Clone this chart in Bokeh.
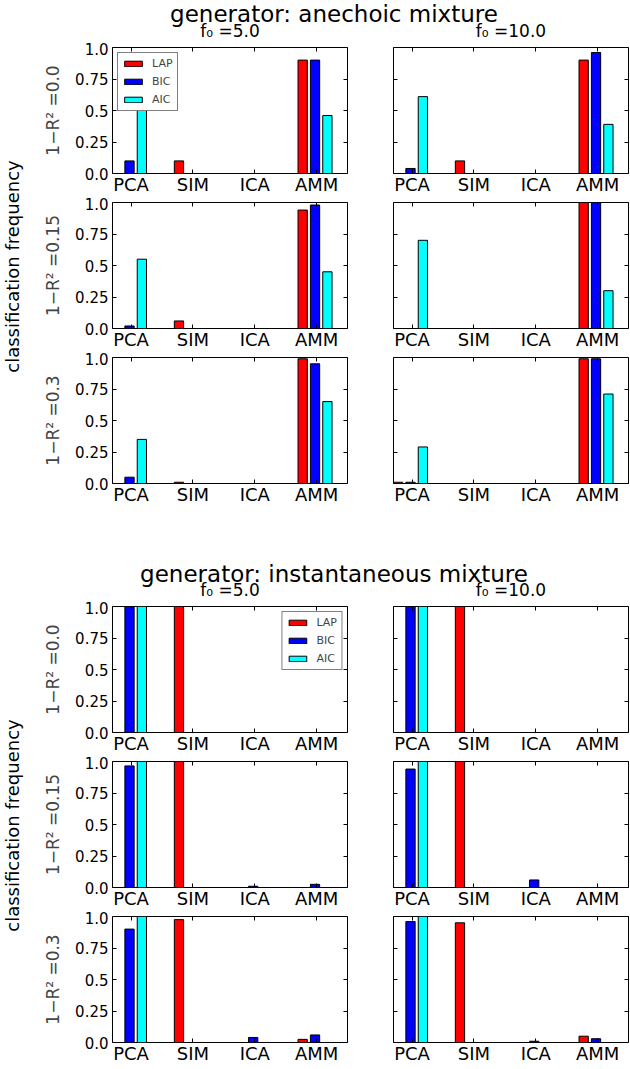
import math
from bokeh.plotting import figure
from bokeh.layouts import column, row
from bokeh.models import (ColumnDataSource, Range1d, FixedTicker, LinearAxis,
                          Legend, LegendItem)
from bokeh.core.properties import value
from bokeh.embed import file_html
from bokeh.resources import INLINE

FONT = "DejaVu Sans"

categories = ["PCA", "SIM", "ICA", "AMM"]
methods = ["LAP", "BIC", "AIC"]
method_colors = ["#ff0000", "#0000ff", "#00ffff"]
generators = ["anechoic mixture", "instantaneous mixture"]
f0_labels = ["5.0", "10.0"]
r2_labels = ["0.0", "0.15", "0.3"]
y_tick_values = [0.0, 0.25, 0.5, 0.75, 1.0]
y_tick_labels = ["0.0", "0.25", "0.5", "0.75", "1.0"]
common_ylabel = "classification frequency"

# ---- generator: anechoic mixture ----
ane_r00_f5_lap = [0.00, 0.10, 0.00, 0.90]
ane_r00_f5_bic = [0.10, 0.00, 0.00, 0.90]
ane_r00_f5_aic = [0.54, 0.00, 0.00, 0.46]
ane_r00_f10_lap = [0.00, 0.10, 0.00, 0.90]
ane_r00_f10_bic = [0.04, 0.00, 0.00, 0.96]
ane_r00_f10_aic = [0.61, 0.00, 0.00, 0.39]

ane_r15_f5_lap = [0.00, 0.06, 0.00, 0.94]
ane_r15_f5_bic = [0.02, 0.00, 0.00, 0.98]
ane_r15_f5_aic = [0.55, 0.00, 0.00, 0.45]
ane_r15_f10_lap = [0.00, 0.00, 0.00, 1.00]
ane_r15_f10_bic = [0.00, 0.00, 0.00, 1.00]
ane_r15_f10_aic = [0.70, 0.00, 0.00, 0.30]

ane_r30_f5_lap = [0.00, 0.01, 0.00, 0.99]
ane_r30_f5_bic = [0.05, 0.00, 0.00, 0.95]
ane_r30_f5_aic = [0.35, 0.00, 0.00, 0.65]
ane_r30_f10_lap = [0.01, 0.00, 0.00, 0.99]
ane_r30_f10_bic = [0.01, 0.00, 0.00, 0.99]
ane_r30_f10_aic = [0.29, 0.00, 0.00, 0.71]

# ---- generator: instantaneous mixture ----
ins_r00_f5_lap = [0.00, 1.00, 0.00, 0.00]
ins_r00_f5_bic = [1.00, 0.00, 0.00, 0.00]
ins_r00_f5_aic = [1.00, 0.00, 0.00, 0.00]
ins_r00_f10_lap = [0.00, 1.00, 0.00, 0.00]
ins_r00_f10_bic = [1.00, 0.00, 0.00, 0.00]
ins_r00_f10_aic = [1.00, 0.00, 0.00, 0.00]

ins_r15_f5_lap = [0.00, 1.00, 0.00, 0.00]
ins_r15_f5_bic = [0.965, 0.00, 0.01, 0.025]
ins_r15_f5_aic = [1.00, 0.00, 0.00, 0.00]
ins_r15_f10_lap = [0.00, 1.00, 0.00, 0.00]
ins_r15_f10_bic = [0.94, 0.00, 0.06, 0.00]
ins_r15_f10_aic = [1.00, 0.00, 0.00, 0.00]

ins_r30_f5_lap = [0.00, 0.975, 0.00, 0.025]
ins_r30_f5_bic = [0.90, 0.00, 0.04, 0.06]
ins_r30_f5_aic = [1.00, 0.00, 0.00, 0.00]
ins_r30_f10_lap = [0.00, 0.95, 0.00, 0.05]
ins_r30_f10_bic = [0.96, 0.00, 0.01, 0.03]
ins_r30_f10_aic = [1.00, 0.00, 0.00, 0.00]

panel_data = {
    0: [[[ane_r00_f5_lap, ane_r00_f5_bic, ane_r00_f5_aic],
         [ane_r00_f10_lap, ane_r00_f10_bic, ane_r00_f10_aic]],
        [[ane_r15_f5_lap, ane_r15_f5_bic, ane_r15_f5_aic],
         [ane_r15_f10_lap, ane_r15_f10_bic, ane_r15_f10_aic]],
        [[ane_r30_f5_lap, ane_r30_f5_bic, ane_r30_f5_aic],
         [ane_r30_f10_lap, ane_r30_f10_bic, ane_r30_f10_aic]]],
    1: [[[ins_r00_f5_lap, ins_r00_f5_bic, ins_r00_f5_aic],
         [ins_r00_f10_lap, ins_r00_f10_bic, ins_r00_f10_aic]],
        [[ins_r15_f5_lap, ins_r15_f5_bic, ins_r15_f5_aic],
         [ins_r15_f10_lap, ins_r15_f10_bic, ins_r15_f10_aic]],
        [[ins_r30_f5_lap, ins_r30_f5_bic, ins_r30_f5_aic],
         [ins_r30_f10_lap, ins_r30_f10_bic, ins_r30_f10_aic]]],
}

# ---- layout / style constants ----
BAR_OFFSETS = [0.0, 0.2, 0.4]
BAR_WIDTH = 0.15
TICK_OFFSET = 0.3
X_END = 3.8
FRAME_W = 235
TOP_B = 5
BOT_B = 22
ROW_H = 155
STRIP_W = 24
LEFT_BORDER = 88
MID_GAP = 23
RIGHT_BORDER = 1
LEFT_W = LEFT_BORDER + FRAME_W + MID_GAP
RIGHT_W = MID_GAP + FRAME_W + RIGHT_BORDER
TOTAL_W = STRIP_W + LEFT_W + RIGHT_W
FRAME_CENTERS = [STRIP_W + LEFT_BORDER + FRAME_W / 2,
                 STRIP_W + LEFT_W + MID_GAP + FRAME_W / 2]
TITLE_CENTER = 333.5
BASELINE_CORR = 0.3  # em; empirical correction of alphabetic baseline placement


def style_axis(ax, show_labels, size="15px"):
    ax.axis_line_color = None
    ax.major_tick_in = 4
    ax.major_tick_out = 0
    ax.major_tick_line_color = "black"
    ax.major_tick_line_width = 1
    ax.minor_tick_line_color = None
    if show_labels:
        ax.major_label_text_font = FONT
        ax.major_label_text_font_size = size
        ax.major_label_text_color = "black"
    else:
        ax.major_label_text_color = None
        ax.major_label_text_font_size = "0px"
        ax.major_label_standoff = 0
        ax.axis_label_standoff = 0


def make_panel(g, r, c):
    vals = panel_data[g][r][c]
    left = c == 0
    p = figure(width=LEFT_W if left else RIGHT_W, height=ROW_H, title=None,
               x_range=Range1d(0, X_END), y_range=Range1d(0, 1),
               output_backend="svg", toolbar_location=None,
               min_border_left=LEFT_BORDER if left else MID_GAP,
               min_border_right=MID_GAP if left else RIGHT_BORDER,
               min_border_top=TOP_B, min_border_bottom=BOT_B)
    p.xgrid.visible = False
    p.ygrid.visible = False
    p.outline_line_color = "black"
    p.outline_line_width = 1
    p.outline_line_alpha = 1.0
    p.background_fill_color = "white"
    p.border_fill_color = "white"

    renderers = []
    for k, m in enumerate(methods):
        xs = [i + BAR_OFFSETS[k] + BAR_WIDTH / 2 for i in range(len(categories))]
        src = ColumnDataSource(dict(x=xs, top=vals[k], cat=categories))
        rr = p.vbar(x="x", top="top", bottom=0, width=BAR_WIDTH, source=src,
                    fill_color=method_colors[k], line_color="black", line_width=1)
        renderers.append(rr)

    x_ticks = [i + TICK_OFFSET for i in range(len(categories))]

    xa = p.xaxis[0]
    xa.ticker = FixedTicker(ticks=x_ticks)
    xa.major_label_overrides = {t: lab for t, lab in zip(x_ticks, categories)}
    style_axis(xa, True, "18px")
    xa.major_label_standoff = 0

    ya = p.yaxis[0]
    ya.ticker = FixedTicker(ticks=y_tick_values)
    ya.major_label_overrides = {t: lab for t, lab in zip(y_tick_values, y_tick_labels)}
    style_axis(ya, left, "15px")
    if left:
        ya.major_label_standoff = 4
        ya.axis_label = "1\u2212R\u00b2 =" + r2_labels[r]
        ya.axis_label_text_font = FONT
        ya.axis_label_text_font_size = "17px"
        ya.axis_label_text_font_style = "normal"
        ya.axis_label_standoff = 9

    top_ax = LinearAxis(ticker=FixedTicker(ticks=x_ticks))
    style_axis(top_ax, False)
    p.add_layout(top_ax, "above")
    right_ax = LinearAxis(ticker=FixedTicker(ticks=y_tick_values))
    style_axis(right_ax, False)
    p.add_layout(right_ax, "right")

    if left and r == 0:
        legend = Legend(items=[LegendItem(label=m, renderers=[rr])
                               for m, rr in zip(methods, renderers)],
                        location="top_left" if g == 0 else "top_right",
                        margin=5, padding=4, spacing=5,
                        glyph_width=22, glyph_height=7, label_height=11,
                        label_standoff=8, label_text_font=FONT,
                        label_text_font_size="11px",
                        border_line_color="black", border_line_width=1,
                        background_fill_color="white", background_fill_alpha=1.0)
        p.add_layout(legend, "center")
    return p


def make_header(g, height, title_base, f0_base):
    # baselines are given in pixels from the top of this header strip
    t = figure(width=TOTAL_W, height=height, title=None,
               x_range=Range1d(0, TOTAL_W), y_range=Range1d(0, height),
               x_axis_type=None, y_axis_type=None,
               toolbar_location=None, output_backend="svg", min_border=0)
    t.outline_line_color = None
    t.border_fill_color = "white"
    main = ColumnDataSource(dict(x=[TITLE_CENTER],
                                 y=[height - title_base + BASELINE_CORR * 23],
                                 text=["generator: " + generators[g]]))
    t.text(x="x", y="y", text="text", source=main, text_align="center",
           text_baseline="alphabetic", text_font=value(FONT),
           text_font_size="23px", text_color="black")
    sub = ColumnDataSource(dict(x=FRAME_CENTERS,
                                y=[height - f0_base + BASELINE_CORR * 17] * 2,
                                text=["f\u2080 =" + f for f in f0_labels]))
    t.text(x="x", y="y", text="text", source=sub, text_align="center",
           text_baseline="alphabetic", text_font=value(FONT),
           text_font_size="17px", text_color="black")
    return t


def make_strip():
    h = 3 * ROW_H
    s = figure(width=STRIP_W, height=h, title=None,
               x_range=Range1d(0, STRIP_W), y_range=Range1d(0, h),
               x_axis_type=None, y_axis_type=None,
               toolbar_location=None, output_backend="svg", min_border=0)
    s.outline_line_color = None
    s.border_fill_color = "white"
    # centred on the middle panel's frame
    yc = h - (ROW_H + TOP_B + (ROW_H - TOP_B - BOT_B) / 2)
    src = ColumnDataSource(dict(x=[STRIP_W / 2], y=[yc], text=[common_ylabel]))
    s.text(x="x", y="y", text="text", source=src, angle=math.pi / 2,
           text_align="center", text_baseline="middle", text_font=value(FONT),
           text_font_size="18px", text_color="black")
    return s


def make_section(g, header_h, title_base, f0_base):
    grid = column(*[row(make_panel(g, r, 0), make_panel(g, r, 1)) for r in range(3)])
    return column(make_header(g, header_h, title_base, f0_base),
                  row(make_strip(), grid))


layout = column(make_section(0, 42, 20, 36),
                make_section(1, 94, 73, 88))
open("out.html", "w").write(file_html(layout, INLINE))
